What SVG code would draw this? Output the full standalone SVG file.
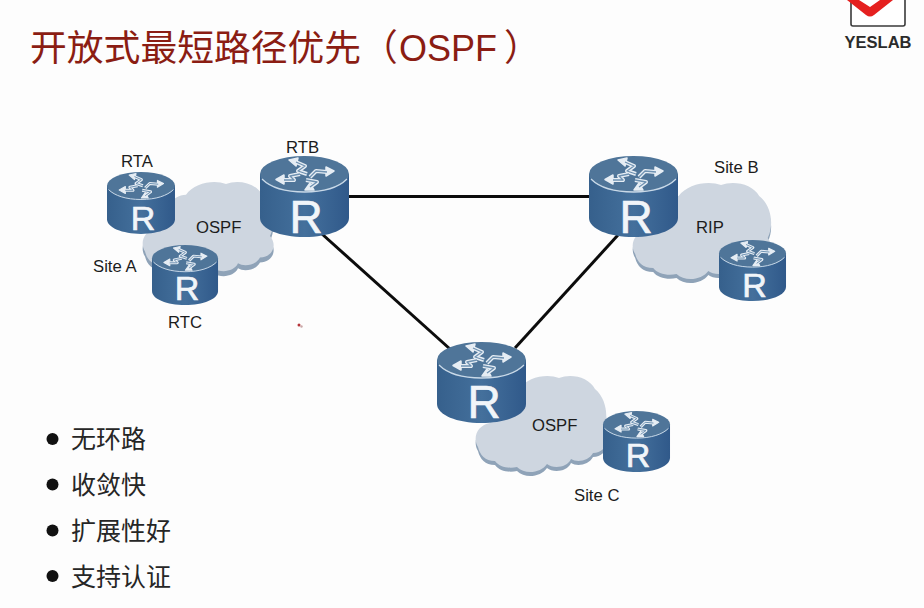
<svg xmlns="http://www.w3.org/2000/svg" xmlns:xlink="http://www.w3.org/1999/xlink" width="924" height="608" viewBox="0 0 924 608">
<style>
.lbl{font-family:"Liberation Sans",Arial,sans-serif;font-size:16.700px;fill:#1c1c1c}
.rl{font-family:"Liberation Sans",Arial,sans-serif;fill:#f1f5f9;stroke:#f1f5f9;stroke-width:.7px;text-anchor:middle}
.big{font-size:46px}
.small{font-size:34px}
.bul{font-family:"Noto Sans CJK SC","Noto Sans",sans-serif;font-size:25px;fill:#262626}
.link{stroke:#0c0c0c;stroke-width:3;fill:none}
.shadow{fill:#8fa3b8}
.puff{fill:#ced6e0}
</style>
<defs>
<linearGradient id="side" x1="0" x2="1" y1="0" y2="0">
<stop offset="0" stop-color="#36608c"/><stop offset=".5" stop-color="#44709c"/><stop offset="1" stop-color="#30598a"/>
</linearGradient>
<path id="arrows" d="M47 18L38 15L45 10L36 6M50 21L56 15L67 16M40 18L30 20L34 24L24 24M46 24L57 26L50 31"/>
<path id="heads" d="M29 4L38 2L36 10ZM74 15L66 11L66 20ZM16 23.500L24 19L24 28ZM45 34L50 27L54 34Z"/>
<g id="router">
<path d="M0 18V62C0 73 20 81 44.500 81S89 73 89 62V18Z" fill="url(#side)"/>
<ellipse cx="44.500" cy="18" rx="44.500" ry="18" fill="#4f7599"/>
<path d="M2 23C10 31 25 36 44.500 36S79 31 87 23" fill="none" stroke="#c9d9e8" stroke-width="1.300"/>
<use href="#arrows" fill="none" stroke="#e6edf4" stroke-width="4" stroke-linejoin="round"/>
<use href="#heads" fill="#e6edf4" stroke="#e6edf4" stroke-width="1.500" stroke-linejoin="round"/>
<use href="#arrows" fill="none" stroke="#6e91b1" stroke-width="1.300" stroke-linejoin="round"/>
</g>
<path id="cloud" d="M3 72C-3 62 3 50 15 48C18 32 30 14 44 14C52 2 72 -2 84 3C96 -2 114 2 120 14C132 24 134 44 128 56C136 66 130 78 118 78C114 86 102 88 96 84C92 93 78 94 72 89C66 98 50 100 42 92C34 94 24 92 20 86C10 86 5 80 3 72Z"/>
</defs>
<rect width="924" height="608" fill="#fdfdfd"/>

<g id="title">
<text y="61" font-family="'Noto Sans CJK SC','Noto Sans',sans-serif" font-size="36.800px" fill="#8b1d13"><tspan x="30">开放式最短路径优先</tspan><tspan x="361">（</tspan><tspan x="399" font-family="'Liberation Sans',Arial,sans-serif" font-size="36px">OSPF</tspan><tspan x="504">）</tspan></text>
</g>

<g id="logo">
<path d="M851 0V24Q851 26 853 26H903Q905 26 905 24V0" fill="#fff" stroke="#3a3a3a" stroke-width="1.600"/>
<path d="M847 0L866 15Q870 18 874 15L893 0H880L870 7L859 0Z" fill="#e5201f"/>
<text x="878" y="48" text-anchor="middle" font-family="'Liberation Sans',Arial,sans-serif" font-weight="700" font-size="16.500px" fill="#2b2b2b">YESLAB</text>
</g>

<g id="connectors">
<path class="link" d="M349 196.500H589"/>
<path class="link" d="M322 234L450 349"/>
<path class="link" d="M515 348L618 235"/>
</g>

<g id="cloud-a">
<use href="#cloud" class="shadow" transform="translate(142 186) scale(1 .98)"/>
<use href="#cloud" class="puff" transform="translate(142 181) scale(1 .98)"/>
<text class="lbl" x="196" y="233">OSPF</text>
<text class="lbl" x="93" y="272">Site A</text>
</g>
<g id="cloud-b">
<use href="#cloud" class="shadow" transform="translate(632 186) scale(1.060 1)"/>
<use href="#cloud" class="puff" transform="translate(632 182) scale(1.060 1)"/>
<text class="lbl" x="696" y="233">RIP</text>
<text class="lbl" x="714" y="173">Site B</text>
</g>
<g id="cloud-c">
<use href="#cloud" class="shadow" transform="translate(475 379)"/>
<use href="#cloud" class="puff" transform="translate(475 375)"/>
<text class="lbl" x="532" y="431">OSPF</text>
<text class="lbl" x="574" y="501">Site C</text>
</g>

<g id="rta">
<use href="#router" transform="translate(107 172) scale(.764)"/>
<text class="rl small" x="143" y="230">R</text>
<text class="lbl" x="121" y="167">RTA</text>
</g>
<g id="rtc">
<use href="#router" transform="translate(152 245) scale(.742)"/>
<text class="rl small" x="187" y="300">R</text>
<text class="lbl" x="168" y="328">RTC</text>
</g>
<g id="rtb">
<use href="#router" transform="translate(260 156)"/>
<text class="rl big" x="306" y="233">R</text>
<text class="lbl" x="286" y="153">RTB</text>
</g>
<g id="rtd">
<use href="#router" transform="translate(589 156)"/>
<text class="rl big" x="636" y="233">R</text>
</g>
<g id="rte">
<use href="#router" transform="translate(437 342)"/>
<text class="rl big" x="484" y="418">R</text>
</g>
<g id="rtf">
<use href="#router" transform="translate(719 240) scale(.753)"/>
<text class="rl small" x="754.500" y="297">R</text>
</g>
<g id="rtg">
<use href="#router" transform="translate(603 411) scale(.753)"/>
<text class="rl small" x="638" y="467">R</text>
</g>

<g id="pointer">
<circle cx="299" cy="325" r="1.500" fill="#b5343a"/>
<circle cx="301.500" cy="326.500" r="1.200" fill="#c9a8a8"/>
</g>

<g id="bullets">
<circle cx="52.500" cy="439" r="6" fill="#111"/>
<text class="bul" x="71" y="448">无环路</text>
<circle cx="52.500" cy="484.500" r="6" fill="#111"/>
<text class="bul" x="71" y="494">收敛快</text>
<circle cx="52.500" cy="530.500" r="6" fill="#111"/>
<text class="bul" x="71" y="540">扩展性好</text>
<circle cx="52.500" cy="576" r="6" fill="#111"/>
<text class="bul" x="71" y="586">支持认证</text>
</g>
</svg>
